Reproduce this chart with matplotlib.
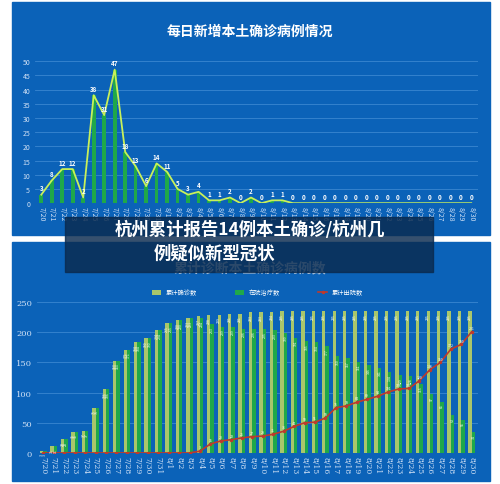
import matplotlib
matplotlib.use("Agg")
import matplotlib.pyplot as plt
import numpy as np
from matplotlib.patches import Rectangle

plt.rcParams['font.family'] = ['Noto Sans CJK SC', 'DejaVu Sans']

dates = ["7/20","7/21","7/22","7/23","7/24","7/25","7/26","7/27","7/28","7/29","7/30","7/31",
         "8/1","8/2","8/3","8/4","8/5","8/6","8/7","8/8","8/9","8/10","8/11","8/12","8/13","8/14",
         "8/15","8/16","8/17","8/18","8/19","8/20","8/21","8/22","8/23","8/24","8/25","8/26","8/27",
         "8/28","8/29","8/30"]
daily = [3,8,12,12,2,38,31,47,18,13,6,14,11,5,3,4,1,1,2,0,2,0,1,1,
         0,0,0,0,0,0,0,0,0,0,0,0,0,0,0,0,0,0]
cumulative = [3,11,23,35,37,75,106,153,171,184,190,204,215,220,223,227,228,229,231,231,233,233,234,235,
              235,235,235,235,235,235,235,235,235,235,235,235,235,235,235,235,235,235]
discharged = [0,0,0,0,0,0,0,0,0,0,0,0,0,0,0,3,15,20,22,25,27,28,31,36,44,50,51,58,75,78,84,89,94,101,
              106,107,120,138,150,172,180,201]
in_hospital = [c - d for c, d in zip(cumulative, discharged)]

BG = '#0b62b8'
fig = plt.figure(figsize=(5, 4.85), dpi=100)
fig.patch.set_facecolor('white')
fig.add_artist(Rectangle((0.024, 0.513), 0.956, 0.48, transform=fig.transFigure, color=BG, zorder=0))
fig.add_artist(Rectangle((0.024, 0.006), 0.956, 0.493, transform=fig.transFigure, color=BG, zorder=0))

x = np.arange(len(dates))

# top chart
ax1 = fig.add_axes([0.07, 0.579, 0.885, 0.293])
ax1.set_facecolor(BG)
ax1.bar(x, daily, width=0.35, color='#1fa84a', zorder=2)
ax1.plot(x, daily, color='#c8f05a', lw=1.3, zorder=3)
for xi, v in zip(x, daily):
    ax1.text(xi, v + 1.2, str(v), ha='center', va='bottom', color='white', fontsize=4.5, fontweight='bold')
ax1.set_ylim(0, 50)
ax1.set_yticks(range(0, 51, 5))
ax1.set_xlim(-0.6, len(dates) - 0.4)
ax1.set_xticks(x)
ax1.set_xticklabels(dates, rotation=-90, fontsize=5, color='#cfe0f5')
ax1.tick_params(axis='y', labelsize=5, colors='#cfe0f5', length=0)
ax1.tick_params(axis='x', length=0, pad=2)
ax1.grid(axis='y', color='#3a86d0', lw=0.6)
for s in ax1.spines.values():
    s.set_visible(False)
fig.text(0.5, 0.935, '每日新增本土确诊病例情况', ha='center', va='center', color='white', fontsize=10, fontweight='bold')

# bottom chart
ax2 = fig.add_axes([0.074, 0.064, 0.882, 0.311])
ax2.set_facecolor(BG)
w = 0.32
b1 = ax2.bar(x - w/2, cumulative, width=w, color='#a9c66b', label='累计确诊数', zorder=2)
b2 = ax2.bar(x + w/2, in_hospital, width=w, color='#1fa84a', label='在院治疗数', zorder=2)
l1, = ax2.plot(x, discharged, color='#c0392b', lw=1.2, marker='o', ms=1.5, label='累计出院数', zorder=3)
for xi, v in zip(x, cumulative):
    ax2.text(xi - w/2, v - 3, str(v), ha='center', va='top', color='white', fontsize=2.5, rotation=90)
for xi, v in zip(x, in_hospital):
    ax2.text(xi + w/2, v - 3, str(v), ha='center', va='top', color='white', fontsize=2.5, rotation=90)
for xi, v in zip(x, discharged):
    if v > 0:
        ax2.text(xi, v + 3, str(v), ha='center', va='bottom', color='white', fontsize=2.5)
ax2.set_ylim(0, 250)
ax2.set_yticks(range(0, 251, 50))
ax2.set_xlim(-0.6, len(dates) - 0.4)
ax2.set_xticks(x)
ax2.set_xticklabels(dates, rotation=-90, fontsize=5.5, color='#cfe0f5', family='DejaVu Serif')
ax2.tick_params(axis='y', labelsize=6, colors='#cfe0f5', length=0)
for lab in ax2.get_yticklabels():
    lab.set_family('DejaVu Serif')
ax2.tick_params(axis='x', length=0, pad=2)
ax2.grid(axis='y', color='#3a86d0', lw=0.6)
for s in ax2.spines.values():
    s.set_visible(False)
ax2.legend([b1, b2, l1], ['累计确诊数', '在院治疗数', '累计出院数'], loc='lower center',
           bbox_to_anchor=(0.5, 1.0), ncol=3, frameon=False, fontsize=4.5,
           labelcolor='white', handlelength=1.5, columnspacing=6)
fig.text(0.5, 0.447, '累计诊断本土确诊病例数', ha='center', va='center', color='#c0d4ea', fontsize=10, fontweight='bold')

# banner overlay
fig.add_artist(Rectangle((0.13, 0.437), 0.736, 0.114, transform=fig.transFigure, color='#0a2a4e', alpha=0.82, zorder=5))
fig.text(0.5, 0.525, '杭州累计报告14例本土确诊/杭州几', ha='center', va='center', color='white', fontsize=12.5, fontweight='bold', zorder=6)
fig.text(0.43, 0.477, '例疑似新型冠状', ha='center', va='center', color='white', fontsize=12.5, fontweight='bold', zorder=6)

fig.savefig('out.png', dpi=100, facecolor='white')
